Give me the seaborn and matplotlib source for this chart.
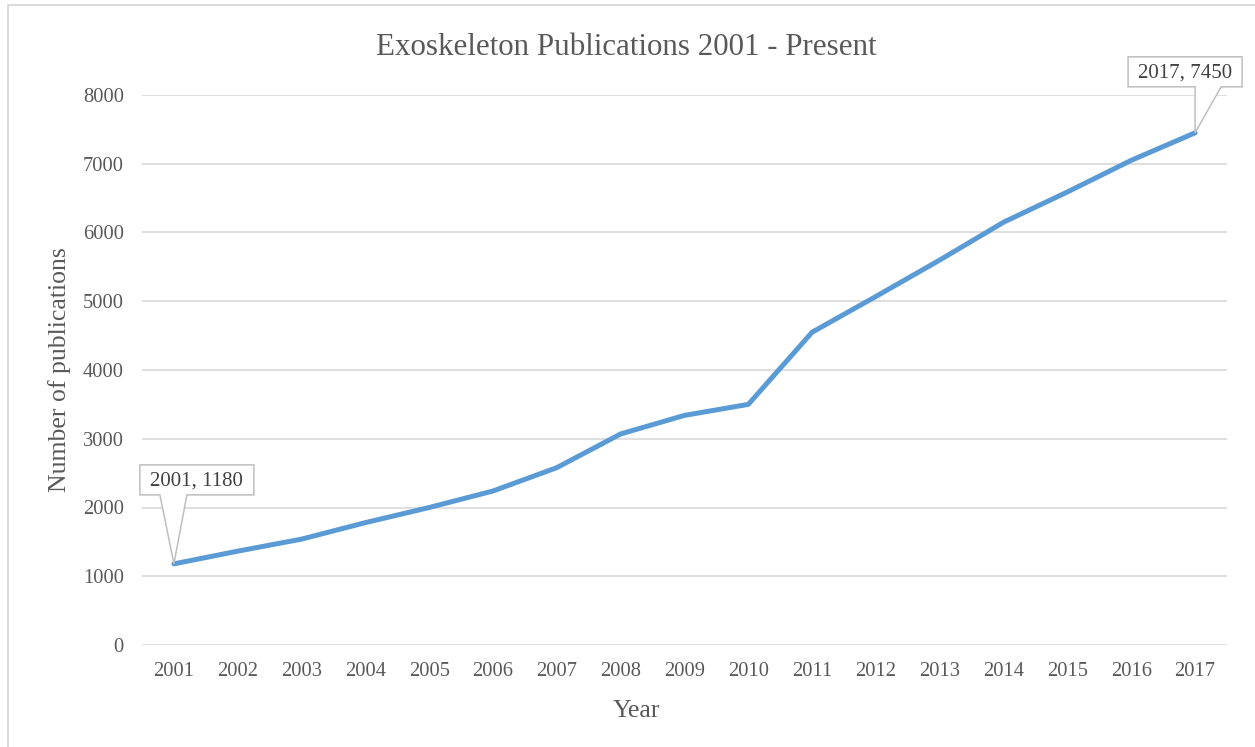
import matplotlib
matplotlib.use("Agg")
import matplotlib.pyplot as plt
import matplotlib.transforms as mtransforms
from matplotlib.patches import Polygon
from matplotlib.lines import Line2D
import seaborn as sns
import pandas as pd

# Yearly publication counts
years = [2001, 2002, 2003, 2004, 2005, 2006, 2007, 2008, 2009,
         2010, 2011, 2012, 2013, 2014, 2015, 2016, 2017]
publications = [1180, 1365, 1540, 1780, 2000, 2240, 2580, 3070, 3340,
                3500, 4550, 5070, 5600, 6150, 6590, 7050, 7450]

y_ticks = [0, 1000, 2000, 3000, 4000, 5000, 6000, 7000, 8000]

title = "Exoskeleton Publications 2001 - Present"
x_label = "Year"
y_label = "Number of publications"

LINE_COLOR = "#5B9BD5"
GRID_COLOR = "#D9D9D9"
TEXT_COLOR = "#595959"
CALLOUT_EDGE = "#BFBFBF"

sns.set_theme(style="white")
plt.rcParams["font.family"] = ["Liberation Serif", "DejaVu Serif"]

W, H = 1255, 747
fig = plt.figure(figsize=(W / 100, H / 100), dpi=100)
fig.patch.set_facecolor("white")

# chart-area frame (left and top edges visible)
fig.add_artist(Line2D([8 / W, 8 / W], [0, 1 - 5 / H], transform=fig.transFigure,
                      color=GRID_COLOR, lw=1.4))
fig.add_artist(Line2D([8 / W, 1], [1 - 5 / H, 1 - 5 / H], transform=fig.transFigure,
                      color=GRID_COLOR, lw=1.4))

ax = fig.add_axes([142 / W, 102 / H, 1085 / W, 550 / H])

df = pd.DataFrame({"Year": years, "Publications": publications})
sns.lineplot(data=df, x="Year", y="Publications", ax=ax, color=LINE_COLOR,
             linewidth=3.6, solid_joinstyle="round", solid_capstyle="round",
             zorder=3)

ax.set_xlim(years[0] - 0.5, years[-1] + 0.5)
ax.set_ylim(y_ticks[0], y_ticks[-1])
ax.set_xticks(years)
ax.set_xticklabels([str(y) for y in years])
ax.set_yticks(y_ticks)
ax.set_yticklabels([str(v) for v in y_ticks])

ax.grid(axis="y", color=GRID_COLOR, linewidth=1.2)
ax.grid(axis="x", visible=False)
ax.set_axisbelow(True)
for s in ax.spines.values():
    s.set_visible(False)
ax.tick_params(axis="both", length=0, labelsize=14.8, colors=TEXT_COLOR)
ax.tick_params(axis="y", pad=13)
ax.tick_params(axis="x", pad=12)

ax.set_xlabel(x_label, fontsize=18.5, color=TEXT_COLOR)
ax.xaxis.set_label_coords((636 - 142) / 1085, (645 - 717) / 550)
ax.xaxis.label.set_va("baseline")
ax.set_ylabel(y_label, fontsize=18.5, color=TEXT_COLOR)
ax.yaxis.set_label_coords((60 - 142) / 1085, 0.5)
ax.yaxis.label.set_va("center")

fig.text(626 / W, 1 - 55 / H, title, ha="center", va="baseline",
         fontsize=22.3, color=TEXT_COLOR)


def callout(idx, left, right, bottom, top, wedge_l, wedge_r):
    """Data callout: box plus wedge pointing at the data point (pixel offsets)."""
    x, y = years[idx], publications[idx]
    trans = mtransforms.Affine2D() + mtransforms.ScaledTranslation(x, y, ax.transData)
    verts = [(left, bottom), (wedge_l, bottom), (0, 0), (wedge_r, bottom),
             (right, bottom), (right, top), (left, top)]
    poly = Polygon(verts, closed=True, transform=trans, facecolor="white",
                   edgecolor=CALLOUT_EDGE, linewidth=1.1, zorder=5, clip_on=False)
    ax.add_artist(poly)
    ax.annotate(f"{x}, {y}", xy=(x, y),
                xytext=((left + right) / 2, (bottom + top) / 2 - 1),
                textcoords="offset pixels", ha="center", va="center",
                fontsize=15, color="#404040", zorder=6, annotation_clip=False)


callout(0, -34, 80, 69, 99, -14, 13)
callout(len(years) - 1, -67, 47, 46, 76, 0, 26)

fig.savefig("out.png", dpi=100, facecolor="white")
